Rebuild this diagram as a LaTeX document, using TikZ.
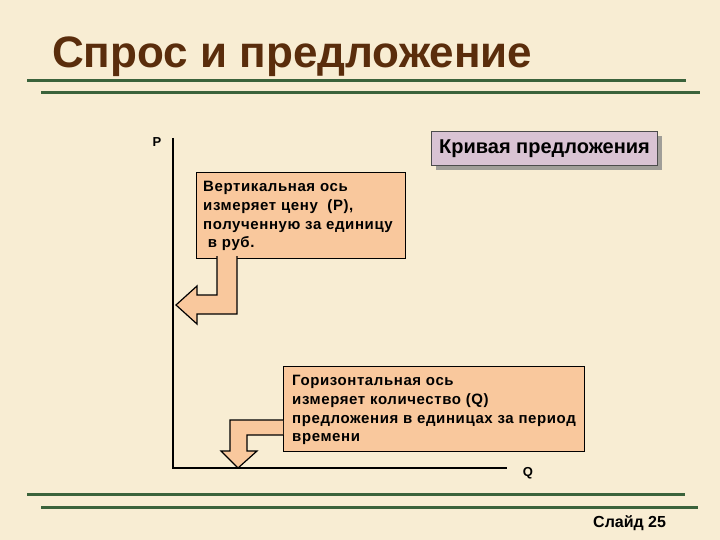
\documentclass[tikz,border=0pt]{standalone}
\usepackage{fontspec}
\setmainfont{Liberation Sans}
\usetikzlibrary{calc}
\definecolor{parch}{HTML}{F8EDD3}
\definecolor{rulegreen}{HTML}{3B633B}
\definecolor{titlebrown}{HTML}{5A2D0C}
\definecolor{peach}{HTML}{F9C89D}
\definecolor{lav}{HTML}{D9C3D3}
\definecolor{shadowgray}{HTML}{A09E98}
\tikzset{
  greenrule/.style={draw=rulegreen, line width=3pt},
  axisline/.style={draw=black, line width=2pt},
  peachbox/.style={draw=black, line width=1.2pt, fill=peach, rectangle, inner sep=0pt, anchor=north west},
  boxtext/.style={anchor=north west, inner sep=0pt, align=left, font=\bfseries\addfontfeature{LetterSpace=4}\fontsize{15}{18.8}\selectfont},
  bentarrow/.style={draw=black, line width=1.2pt, fill=peach, line join=miter},
  axislabel/.style={font=\bfseries\fontsize{13}{13}\selectfont, inner sep=0pt}
}
\begin{document}
\begin{tikzpicture}[x=1pt,y=-1pt]
\useasboundingbox (0,0) rectangle (720,540);
\fill[parch] (0,0) rectangle (720,540);
% title
\node[anchor=base west, inner sep=0pt, text=titlebrown, font=\bfseries\fontsize{44}{44}\selectfont] (title) at (52,68) {Спрос и предложение};
% rules
\draw[greenrule] (27,81) -- (686,81);
\draw[greenrule] (41,93) -- (700,93);
\draw[greenrule] (27,494) -- (685,494);
\draw[greenrule] (41,507) -- (698,507);
% axes
\coordinate (ytop) at (173,138);
\coordinate (origin) at (173,468);
\coordinate (xend) at (507,468);
\draw[axisline] (ytop) -- (origin) -- (xend);
\node[axislabel] (plabel) at (157,142) {P};
\node[axislabel] (qlabel) at (528,473) {Q};
% supply curve box with shadow
\fill[shadowgray] (436,136) rectangle (662,170);
\node[draw=black!70, line width=1pt, fill=lav, rectangle, inner sep=0pt, anchor=north west, minimum width=226pt, minimum height=34pt] (curvebox) at (431,131) {};
\node[font=\bfseries\fontsize{20}{20}\selectfont, inner sep=0pt] (curvetext) at (curvebox.center) {Кривая предложения};
% vertical axis box
\node[peachbox, minimum width=209pt, minimum height=86pt] (vbox) at (196,172) {};
\node[boxtext] (vtext) at (203,181) {Вертикальная ось\\измеряет цену~~(P),\\полученную за единицу\\~в руб.};
% bent arrow 1
\draw[bentarrow] (217,256) -- (217,295) -- (197,295) -- (197,286) -- (176,305) -- (197,324) -- (197,314) -- (237,314) -- (237,256);
% horizontal axis box
\node[peachbox, minimum width=301pt, minimum height=85pt] (hbox) at (283,366) {};
\node[boxtext] (htext) at (292,375) {Горизонтальная ось\\измеряет количество (Q)\\предложения в единицах за период\\времени};
% bent arrow 2
\draw[bentarrow] (283,420) -- (230,420) -- (230,451) -- (221,451) -- (238,468) -- (257,451) -- (247,451) -- (247,435) -- (283,435);
% slide number
\node[anchor=base west, inner sep=0pt, font=\bfseries\fontsize{16}{16}\selectfont] (slideno) at (593,527) {Слайд 25};
\end{tikzpicture}
\end{document}
